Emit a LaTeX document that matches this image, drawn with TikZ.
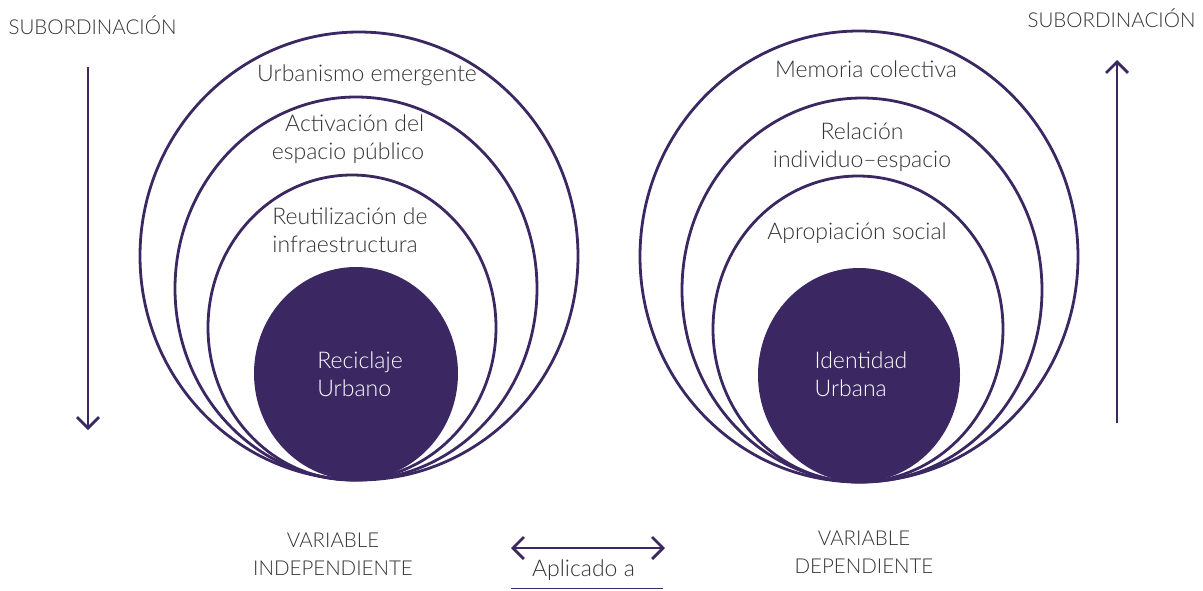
\documentclass[tikz,border=0pt]{standalone}
\usepackage{fontspec}
\setmainfont{Lato}[UprightFont=* Light]
\usetikzlibrary{arrows.meta}
\definecolor{pur}{HTML}{3B2863}
\definecolor{txt}{HTML}{333333}
\begin{document}
\begin{tikzpicture}[x=1pt,y=-1pt,
  ring/.style={draw=pur,line width=2.8pt},
  core/.style={fill=pur},
  lbl/.style={text=txt,font=\fontsize{23}{28}\selectfont,inner sep=0pt,align=center},
  caplbl/.style={text=txt,font=\fontsize{20.5}{28}\selectfont,inner sep=0pt,align=center},
  wlbl/.style={text=white,font=\fontsize{23}{28}\selectfont,inner sep=0pt,align=left},
  arr/.style={draw=pur,line width=2.8pt,-{Straight Barb[length=11pt,width=22pt]}},
  darr/.style={draw=pur,line width=2.8pt,{Straight Barb[length=11pt,width=22pt]}-{Straight Barb[length=11pt,width=22pt]}},
]
\useasboundingbox (0,0) rectangle (1203,590);
% left group
\draw[ring] (359,256) ellipse [x radius=219pt,y radius=224pt];
\draw[ring] (356,288.5) ellipse [x radius=181pt,y radius=191.5pt];
\draw[ring] (352,327.5) ellipse [x radius=144pt,y radius=152.5pt];
\fill[core] (356,373.5) ellipse [x radius=102pt,y radius=106.5pt];
% right group
\draw[ring] (859,256.5) ellipse [x radius=219pt,y radius=225.5pt];
\draw[ring] (862,290) ellipse [x radius=180pt,y radius=192pt];
\draw[ring] (858,329) ellipse [x radius=145pt,y radius=153pt];
\fill[core] (859,375) ellipse [x radius=101pt,y radius=107pt];
% labels left
\node[lbl] (ue) at (367,75) {Urbanismo emergente};
\node[lbl,align=right] (ae) at (348,139) {Activación del\\espacio público};
\node[lbl,align=left] (ri) at (350,230) {Reutilización de\\infraestructura};
\node[wlbl] (ru) at (360,374) {Reciclaje\\Urbano};
% labels right
\node[lbl] (mc) at (866,69) {Memoria colectiva};
\node[lbl] (rie) at (862,147) {Relación\\individuo–espacio};
\node[lbl] (as) at (857,233) {Apropiación social};
\node[wlbl] (iu) at (861,374) {Identidad\\Urbana};
% subordination
\node[caplbl] (subl) at (92.5,25) {SUBORDINACIÓN};
\node[caplbl] (subr) at (1111.5,18) {SUBORDINACIÓN};
\coordinate (la1) at (88,67);
\coordinate (la2) at (88,430);
\coordinate (ra1) at (1117,423);
\coordinate (ra2) at (1117,60);
\draw[arr] (la1) -- (la2);
\draw[arr] (ra1) -- (ra2);
% bottom
\node[caplbl] (vi) at (333,554) {VARIABLE\\INDEPENDIENTE};
\node[caplbl] (vd) at (864,552) {VARIABLE\\DEPENDIENTE};
\node[lbl] (ap) at (583.5,570) {Aplicado a};
\coordinate (da1) at (511,548);
\coordinate (da2) at (665,548);
\draw[darr] (da1) -- (da2);
\coordinate (ul1) at (511,588.5);
\coordinate (ul2) at (663,588.5);
\draw[pur,line width=1.6pt] (ul1) -- (ul2);
\end{tikzpicture}
\end{document}
